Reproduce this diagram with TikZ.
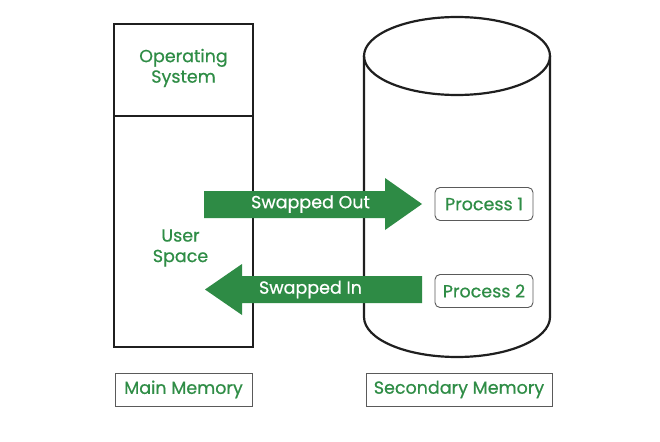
\documentclass[tikz,border=0pt]{standalone}
\usepackage{fontspec}
\setmainfont{Poppins}
\newfontfamily\gfont[FakeBold=0.6]{Poppins}
\definecolor{gfg}{HTML}{2F8D46}
\definecolor{arrowg}{HTML}{2E8B45}
\definecolor{boxgray}{HTML}{5A5A5A}
\begin{document}
\begin{tikzpicture}[x=1pt,y=-1pt,
  outline/.style={draw=black!88,line width=2.2pt},
  gtext/.style={text=gfg,font=\gfont\fontsize{17.5}{20.5}\selectfont,align=center,inner sep=0pt},
  wtext/.style={text=white,font=\gfont\fontsize{17.5}{20}\selectfont,inner sep=0pt},
  procbox/.style={draw=boxgray,line width=0.9pt,rounded corners=5pt,minimum width=98pt,minimum height=33pt,text=gfg,font=\gfont\fontsize{17.5}{20}\selectfont,inner sep=0pt},
  labbox/.style={draw=boxgray,line width=0.9pt,minimum height=33pt,text=gfg,font=\gfont\fontsize{17.5}{20}\selectfont,inner sep=0pt},
  bigarrow/.style={fill=arrowg}]
\useasboundingbox (0,0) rectangle (660,441);
\fill[white] (0,0) rectangle (660,441);
% main memory
\draw[outline] (114,24) rectangle (253,347);
\draw[outline] (114,116) -- (253,116);
\node[gtext] (os) at (183.5,68) {Operating\\System};
\node[gtext] (us) at (180.5,248) {User\\Space};
% cylinder
\draw[outline] (457,56) ellipse [x radius=93, y radius=39];
\draw[outline] (364,56) -- (364,317) arc[start angle=180,end angle=0,x radius=93,y radius=40] -- (550,56);
% arrows
\fill[bigarrow] (204,191) -- (385,191) -- (385,178) -- (422,204) -- (385,230) -- (385,218) -- (204,218) -- cycle;
\node[wtext] (out) at (310.5,204) {Swapped Out};
\fill[bigarrow] (422,276) -- (242,276) -- (242,264) -- (205,289.5) -- (242,315) -- (242,303) -- (422,303) -- cycle;
\node[wtext] (in) at (310.5,289.5) {Swapped In};
% processes
\node[procbox] (p1) at (484,204) {Process 1};
\node[procbox] (p2) at (484,291) {Process 2};
% labels
\node[labbox,minimum width=137pt] (mm) at (183.5,389.5) {Main Memory};
\node[labbox,minimum width=186pt] (sm) at (459,389.5) {Secondary Memory};
\end{tikzpicture}
\end{document}
